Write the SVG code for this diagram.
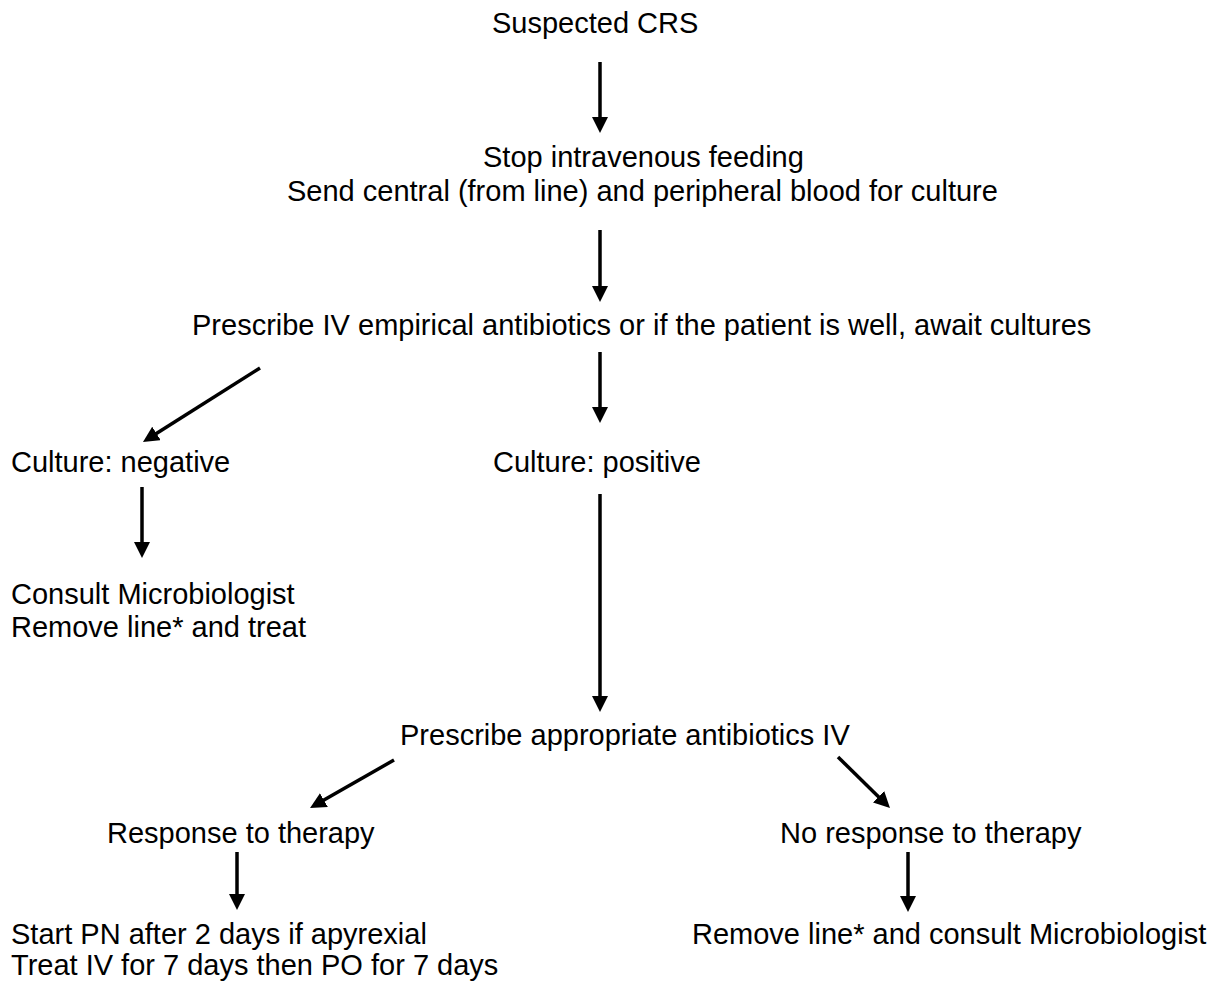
<svg xmlns="http://www.w3.org/2000/svg" width="1220" height="985" viewBox="0 0 1220 985">
<style>
  text { font-family: "Liberation Sans", Arial, sans-serif; font-size: 29px; fill: #000; }
  .c { stroke: #000; stroke-width: 3.5; fill: none; marker-end: url(#ah); }
</style>
<defs>
  <marker id="ah" markerUnits="userSpaceOnUse" markerWidth="17" markerHeight="17" refX="2" refY="8" orient="auto">
    <path d="M0,0 L16,8 L0,16 z" fill="#000"/>
  </marker>
</defs>
<rect width="1220" height="985" fill="#fff"/>
<g id="n1"><text x="492" y="33">Suspected CRS</text></g>
<g id="n2"><text x="483" y="167">Stop intravenous feeding</text><text x="287" y="201">Send central (from line) and peripheral blood for culture</text></g>
<g id="n3"><text x="192" y="335">Prescribe IV empirical antibiotics or if the patient is well, await cultures</text></g>
<g id="n4"><text x="11" y="472">Culture: negative</text></g>
<g id="n5"><text x="493" y="472">Culture: positive</text></g>
<g id="n6"><text x="11" y="604">Consult Microbiologist</text><text x="11" y="637">Remove line* and treat</text></g>
<g id="n7"><text x="400" y="745">Prescribe appropriate antibiotics IV</text></g>
<g id="n8"><text x="107" y="843">Response to therapy</text></g>
<g id="n9"><text x="780" y="843">No response to therapy</text></g>
<g id="n10"><text x="11" y="944">Start PN after 2 days if apyrexial</text><text x="11" y="975">Treat IV for 7 days then PO for 7 days</text></g>
<g id="n11"><text x="692" y="944">Remove line* and consult Microbiologist</text></g>
<g id="connectors">
  <line class="c" x1="600" y1="62" x2="600" y2="119"/>
  <line class="c" x1="600" y1="230" x2="600" y2="288"/>
  <line class="c" x1="600" y1="352" x2="600" y2="409"/>
  <line class="c" x1="260" y1="368" x2="154.8" y2="434.5"/>
  <line class="c" x1="142" y1="487" x2="142" y2="544"/>
  <line class="c" x1="600" y1="494" x2="600" y2="698"/>
  <line class="c" x1="394" y1="760" x2="322.2" y2="801.1"/>
  <line class="c" x1="838" y1="757" x2="880" y2="798.2"/>
  <line class="c" x1="237" y1="852" x2="237" y2="896"/>
  <line class="c" x1="908" y1="852" x2="908" y2="898"/>
</g>
</svg>
